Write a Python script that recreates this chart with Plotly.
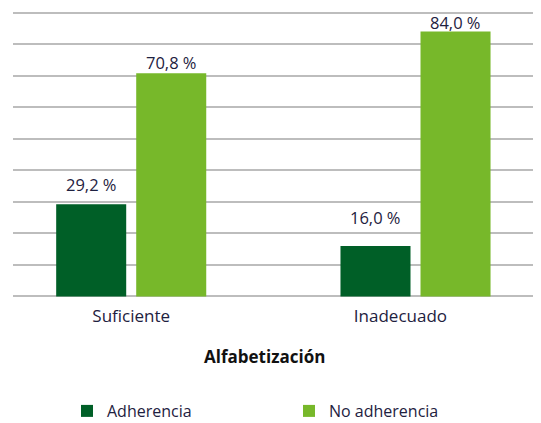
import plotly.graph_objects as go

categories = ["Suficiente", "Inadecuado"]
adherencia = [29.2, 16.0]
no_adherencia = [70.8, 84.0]
series_names = ["Adherencia", "No adherencia"]
axis_title = "Alfabetización"

# styles
colors = ["#005F27", "#77B82A"]
text_color = "#1e2140"
font_family = "Open Sans, Noto Sans, sans-serif"
bargap = 0.437
bargroupgap = 0.125
label_yshift = [[20, 11], [28, 9]]   # per category, per series (px)
tick_shift = [0.0, -0.053]           # label shift in category units

OFF = 8  # page body margin of the browser
W, H = 541 - OFF, 423 - OFF
mt, mb, ml, mr = 11 - OFF, 125, 13 - OFF, 0

x = list(range(len(categories)))
series = [adherencia, no_adherencia]

fig = go.Figure()
for name, vals, col in zip(series_names, series, colors):
    fig.add_trace(go.Bar(x=x, y=vals, name=name, marker=dict(color=col, line=dict(width=0))))

slot = (1 - bargap) / len(series)
for j, vals in enumerate(series):
    for i, v in enumerate(vals):
        fig.add_annotation(
            x=i + (j - (len(series) - 1) / 2) * slot, y=v, xref="x", yref="y",
            text=f"{v:.1f}".replace(".", ",") + " %", showarrow=False,
            yanchor="middle", yshift=label_yshift[i][j],
            font=dict(size=16.5, color=text_color, family=font_family),
        )

plot_h = H - mt - mb
title_y_px = 356.7 - OFF
fig.add_annotation(
    x=(264 - OFF - ml) / (W - ml - mr), y=(H - mb - title_y_px) / plot_h,
    xref="paper", yref="paper", text="<b>" + axis_title + "</b>", showarrow=False,
    xanchor="center", yanchor="middle",
    font=dict(size=17, color="#111111", family=font_family),
)

fig.update_layout(
    width=W, height=H,
    margin=dict(l=ml, r=mr, t=mt, b=mb, pad=0),
    plot_bgcolor="white", paper_bgcolor="white",
    barmode="group", bargap=bargap, bargroupgap=bargroupgap,
    font=dict(family=font_family, color=text_color, size=16),
    showlegend=True,
    legend=dict(
        orientation="h", xref="container", yref="container",
        x=(67 - OFF) / W, y=1 - (411 - OFF) / H, xanchor="left", yanchor="middle",
        entrywidth=177, entrywidthmode="pixels",
        font=dict(size=16, color=text_color, family=font_family),
        bgcolor="rgba(0,0,0,0)", borderwidth=0,
    ),
    xaxis=dict(
        type="linear", range=[-0.4158, 1.4414],
        tickvals=[i + s for i, s in zip(x, tick_shift)], ticktext=categories,
        showgrid=False, zeroline=False, showline=False, ticks="",
        ticklabelstandoff=6,
        tickfont=dict(size=17, color=text_color, family=font_family),
    ),
    yaxis=dict(
        range=[-0.5, 90.5], tick0=0, dtick=10, showgrid=True,
        gridcolor="#bdbdbd", gridwidth=2, zeroline=False,
        showticklabels=False, showline=False, ticks="",
    ),
)

fig.write_html("out.html")
